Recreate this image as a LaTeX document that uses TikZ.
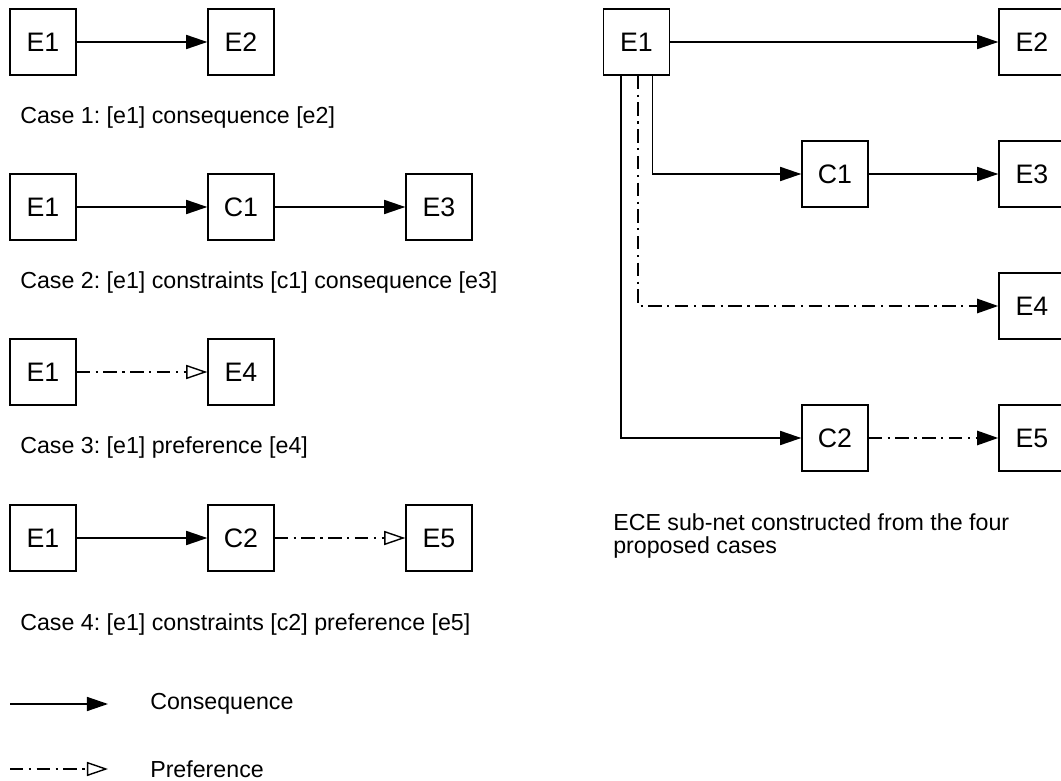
\documentclass[tikz,border=0pt]{standalone}
\usepackage{fontspec}
\setmainfont{Liberation Sans}
\usetikzlibrary{arrows.meta}
\frenchspacing

\begin{document}
\begin{tikzpicture}[
    x=0.025cm, y=-0.025cm,
    font=\fontsize{16.5}{16.5}\selectfont,
    evt/.style={draw, line width=1pt, minimum width=1.65cm, minimum height=1.65cm,
                inner sep=0pt, font=\fontsize{19}{20}\selectfont},
    caption/.style={anchor=west, inner sep=0pt, align=left},
    cons/.style={line width=1pt, -{Triangle[length=15pt, width=10pt]}},
    pref/.style={line width=1.7pt, dash pattern=on 9.5pt off 4pt on 1.5pt off 4pt},
    prefopen/.style={pref, -{Triangle[open, length=15pt, width=10pt, line width=1pt]}},
    preffill/.style={pref, -{Triangle[length=15pt, width=10pt]}},
  ]

  \useasboundingbox (0,0) rectangle (1061,781);

  % case 1
  \node[evt] (c1e1) at (43,42) {E1};
  \node[evt] (c1e2) at (241,42) {E2};
  \node[caption] (cap1) at (20,118) {Case 1: [e1] consequence [e2]};
  \draw[cons] (c1e1) -- (c1e2);

  % case 2
  \node[evt] (c2e1) at (43,207) {E1};
  \node[evt] (c2c1) at (241,207) {C1};
  \node[evt] (c2e3) at (439,207) {E3};
  \node[caption] (cap2) at (20,283) {Case 2: [e1] constraints [c1] consequence [e3]};
  \draw[cons] (c2e1) -- (c2c1);
  \draw[cons] (c2c1) -- (c2e3);

  % case 3
  \node[evt] (c3e1) at (43,372) {E1};
  \node[evt] (c3e4) at (241,372) {E4};
  \node[caption] (cap3) at (20,448) {Case 3: [e1] preference [e4]};
  \draw[prefopen] (c3e1) -- (c3e4);

  % case 4
  \node[evt] (c4e1) at (43,538) {E1};
  \node[evt] (c4c2) at (241,538) {C2};
  \node[evt] (c4e5) at (439,538) {E5};
  \node[caption] (cap4) at (20,624) {Case 4: [e1] constraints [c2] preference [e5]};
  \draw[cons] (c4e1) -- (c4c2);
  \draw[prefopen] (c4c2) -- (c4e5);

  % legend
  \coordinate (consA) at (10,704);
  \coordinate (consB) at (108,704);
  \coordinate (prefA) at (10,769);
  \coordinate (prefB) at (108,769);
  \draw[cons] (consA) -- (consB);
  \draw[prefopen] (prefA) -- (prefB);
  \node[caption] (lgcons) at (150,704) {Consequence};
  \node[caption] (lgpref) at (150,769) {Preference};

  % merged sub-net
  \node[evt] (nE1) at (636.5,42) {E1};
  \node[evt] (nE2) at (1032,42) {E2};
  \node[evt] (nC1) at (835,174) {C1};
  \node[evt] (nE3) at (1032,174) {E3};
  \node[evt] (nE4) at (1032,306) {E4};
  \node[evt] (nC2) at (835,438) {C2};
  \node[evt] (nE5) at (1032,438) {E5};

  \draw[cons] (nE1) -- (nE2);
  \draw[cons] ([xshift=0.4cm]nE1.south) |- (nC1);
  \draw[cons] (nC1) -- (nE3);
  \draw[preffill] ([xshift=0.04cm]nE1.south) |- (nE4);
  \draw[cons] ([xshift=-0.39cm]nE1.south) |- (nC2);
  \draw[preffill] (nC2) -- (nE5);

  \node[caption] (capnet) at (613,536) {ECE sub-net constructed from the four\\proposed cases};

\end{tikzpicture}
\end{document}
